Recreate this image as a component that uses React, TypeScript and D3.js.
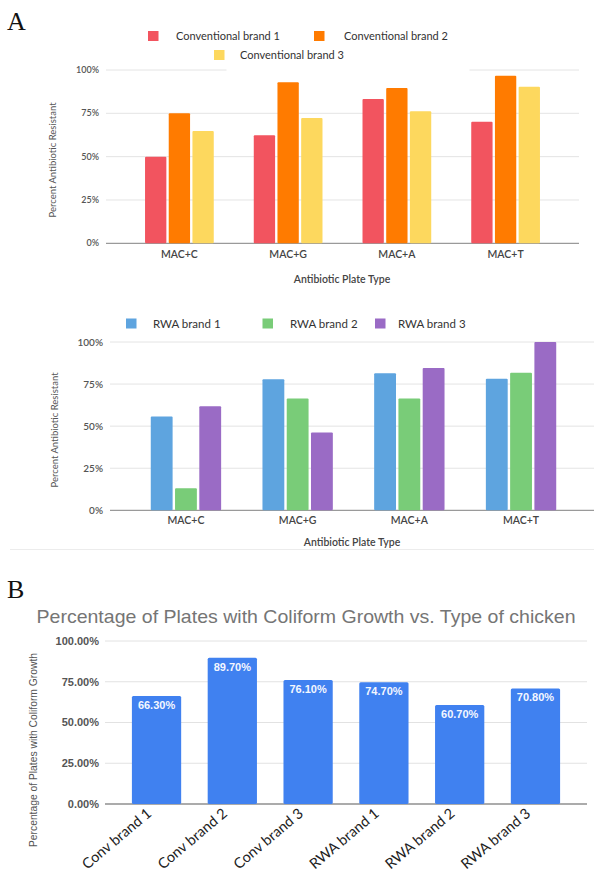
import React from "react";
import * as d3 from "d3";

// ---------- data ----------
const categoriesA = ["MAC+C", "MAC+G", "MAC+A", "MAC+T"];
const convSeries = ["Conventional brand 1", "Conventional brand 2", "Conventional brand 3"];
const conv1 = [50, 62.3, 83.3, 70.2];
const conv2 = [75, 92.9, 89.6, 96.7];
const conv3 = [64.8, 72.3, 76.2, 90.4];
const rwaSeries = ["RWA brand 1", "RWA brand 2", "RWA brand 3"];
const rwa1 = [55.8, 77.8, 81.4, 78.2];
const rwa2 = [13.1, 66.5, 66.5, 81.8];
const rwa3 = [61.8, 46.3, 84.5, 100];
const ticksA = [0, 25, 50, 75, 100];
const categoriesB = ["Conv brand 1", "Conv brand 2", "Conv brand 3", "RWA brand 1", "RWA brand 2", "RWA brand 3"];
const valuesB = [66.3, 89.7, 76.1, 74.7, 60.7, 70.8];
const ticksB = [0, 25, 50, 75, 100];

const convColors = ["#f2545f", "#ff7b00", "#fdd85e"];
const rwaColors = ["#5ea4df", "#79cc78", "#9a6bc5"];
const blueB = "#4081f0";

type GProps = {
  series: number[][];
  colors: string[];
  x0: number; x1: number; gx1: number;
  yTop: number; yBot: number;
  pi: number; po: number;
  tickX: number; tickFont: number;
  catY: number; catFont: number;
  titleX: number; titleY: number; titleFont: number;
  yTitleX: number; yTitleY: number; yTitleFont: number;
};

function GroupedChart(p: GProps) {
  const x = d3.scaleBand<string>().domain(categoriesA).range([p.x0, p.x1]).paddingInner(p.pi).paddingOuter(p.po);
  const idx = p.series.map((_, i) => String(i));
  const xs = d3.scaleBand<string>().domain(idx).range([0, x.bandwidth()]).paddingInner(0.1);
  const y = d3.scaleLinear().domain([0, 100]).range([p.yBot, p.yTop]);
  const font = "Lato, 'Open Sans', sans-serif";
  return (
    <g>
      {ticksA.map((t) => (
        <g key={t}>
          <line x1={p.x0} x2={p.gx1} y1={y(t)} y2={y(t)} stroke={t === 0 ? "#9a9a9a" : "#e4e4e4"} strokeWidth={t === 0 ? 1.3 : 1} />
          <text x={p.tickX} y={y(t)} dy="0.35em" textAnchor="end" fontSize={p.tickFont} fontFamily={font} fill="#555" fontWeight={600}>
            {t + "%"}
          </text>
        </g>
      ))}
      {categoriesA.map((c, ci) => (
        <g key={c}>
          {p.series.map((s, si) => (
            <rect key={si} x={(x(c) as number) + (xs(String(si)) as number)} width={xs.bandwidth()} y={y(s[ci])} height={y(0) - y(s[ci])} fill={p.colors[si]} rx={1} />
          ))}
          <text x={(x(c) as number) + x.bandwidth() / 2} y={p.catY} dy="0.35em" textAnchor="middle" fontSize={p.catFont} fontFamily={font} fill="#444" fontWeight={600}>
            {c}
          </text>
        </g>
      ))}
      <text x={p.titleX} y={p.titleY} dy="0.35em" textAnchor="middle" fontSize={p.titleFont} fontFamily={font} fill="#444" fontWeight={600}>
        Antibiotic Plate Type
      </text>
      <text transform={`translate(${p.yTitleX},${p.yTitleY}) rotate(-90)`} dy="0.35em" textAnchor="middle" fontSize={p.yTitleFont} fontFamily={font} fill="#555">
        Percent Antibiotic Resistant
      </text>
    </g>
  );
}

function LegendItem({ x, y, color, label, size, tx }: { x: number; y: number; color: string; label: string; size: number; tx: number }) {
  return (
    <g>
      <rect x={x} y={y - 5} width={10.5} height={10} fill={color} />
      <text x={tx} y={y} dy="0.35em" fontSize={size} fontFamily="Lato, 'Open Sans', sans-serif" fill="#333">
        {label}
      </text>
    </g>
  );
}

function ChartB() {
  const x = d3.scaleBand<string>().domain(categoriesB).range([105, 587]).paddingInner(0.35).paddingOuter(0.355);
  const y = d3.scaleLinear().domain([0, 100]).range([804, 641]);
  const fmt = (v: number) => v.toFixed(2) + "%";
  const sans = "'Liberation Sans', Arial, sans-serif";
  return (
    <g>
      <text x={36.5} y={623} fontSize={19} fontFamily={sans} fill="#757575" textLength={539} lengthAdjust="spacingAndGlyphs">
        Percentage of Plates with Coliform Growth vs. Type of chicken
      </text>
      {ticksB.map((t) => (
        <g key={t}>
          <line x1={105} x2={587} y1={y(t)} y2={y(t)} stroke={t === 0 ? "#8f8f8f" : "#e2e2e2"} strokeWidth={t === 0 ? 1.3 : 1} />
          <text x={99} y={y(t)} dy="0.35em" textAnchor="end" fontSize={11} fontFamily={sans} fill="#555" fontWeight={700}>
            {fmt(t)}
          </text>
        </g>
      ))}
      {categoriesB.map((c, i) => {
        const bx = x(c) as number;
        const cx = bx + x.bandwidth() / 2;
        return (
          <g key={c}>
            <rect x={bx} width={x.bandwidth()} y={y(valuesB[i])} height={y(0) - y(valuesB[i])} fill={blueB} rx={1.5} />
            <text x={cx} y={y(valuesB[i]) + 9} dy="0.35em" textAnchor="middle" fontSize={11} fontFamily={sans} fontWeight={700} fill="#f4f7ff">
              {fmt(valuesB[i])}
            </text>
            <text transform={`translate(${cx - 4},${815}) rotate(-40)`} textAnchor="end" fontSize={14.5} fontFamily="Lato, 'Open Sans', sans-serif" fill="#222">
              {c}
            </text>
          </g>
        );
      })}
      <text transform={`translate(33,750) rotate(-90)`} dy="0.35em" textAnchor="middle" fontSize={10} fontFamily={sans} fill="#555" textLength={194} lengthAdjust="spacingAndGlyphs">
        Percentage of Plates with Coliform Growth
      </text>
    </g>
  );
}

export default function App() {
  return (
    <svg width={594} height={872} style={{ position: "absolute", left: 0, top: 0, background: "#fff" }}>
      <rect width={594} height={872} fill="#fff" />
      <text x={7} y={30} fontSize={26} fontFamily="'Liberation Serif', 'Times New Roman', serif" fill="#111">A</text>
      <text x={7} y={598} fontSize={26} fontFamily="'Liberation Serif', 'Times New Roman', serif" fill="#111">B</text>

      {/* Panel A1 */}
      <GroupedChart
        series={[conv1, conv2, conv3]}
        colors={convColors}
        x0={106} x1={579} gx1={579}
        yTop={70} yBot={243.3}
        pi={0.368} po={0.359}
        tickX={99} tickFont={9}
        catY={254} catFont={10.5}
        titleX={342} titleY={279} titleFont={10.5}
        yTitleX={53} yTitleY={160} yTitleFont={9.5}
      />
      <rect x={226.5} y={44} width={243} height={29} fill="#fff" />
      <LegendItem x={148} y={36} color={convColors[0]} label={convSeries[0]} size={11} tx={176} />
      <LegendItem x={314} y={36} color={convColors[1]} label={convSeries[1]} size={11} tx={344} />
      <LegendItem x={214} y={55} color={convColors[2]} label={convSeries[2]} size={11} tx={240} />

      {/* Panel A2 */}
      <GroupedChart
        series={[rwa1, rwa2, rwa3]}
        colors={rwaColors}
        x0={110} x1={597} gx1={594}
        yTop={342} yBot={510.3}
        pi={0.37} po={0.365}
        tickX={103} tickFont={10}
        catY={520} catFont={10.5}
        titleX={352} titleY={542} titleFont={10.5}
        yTitleX={55} yTitleY={430} yTitleFont={9.5}
      />
      <LegendItem x={126} y={323.5} color={rwaColors[0]} label={rwaSeries[0]} size={11.5} tx={153} />
      <LegendItem x={262.5} y={323.5} color={rwaColors[1]} label={rwaSeries[1]} size={11.5} tx={290} />
      <LegendItem x={375} y={323.5} color={rwaColors[2]} label={rwaSeries[2]} size={11.5} tx={398} />
      <line x1={10} x2={594} y1={549.5} y2={549.5} stroke="#ececec" strokeWidth={1} />

      {/* Panel B */}
      <ChartB />
    </svg>
  );
}
